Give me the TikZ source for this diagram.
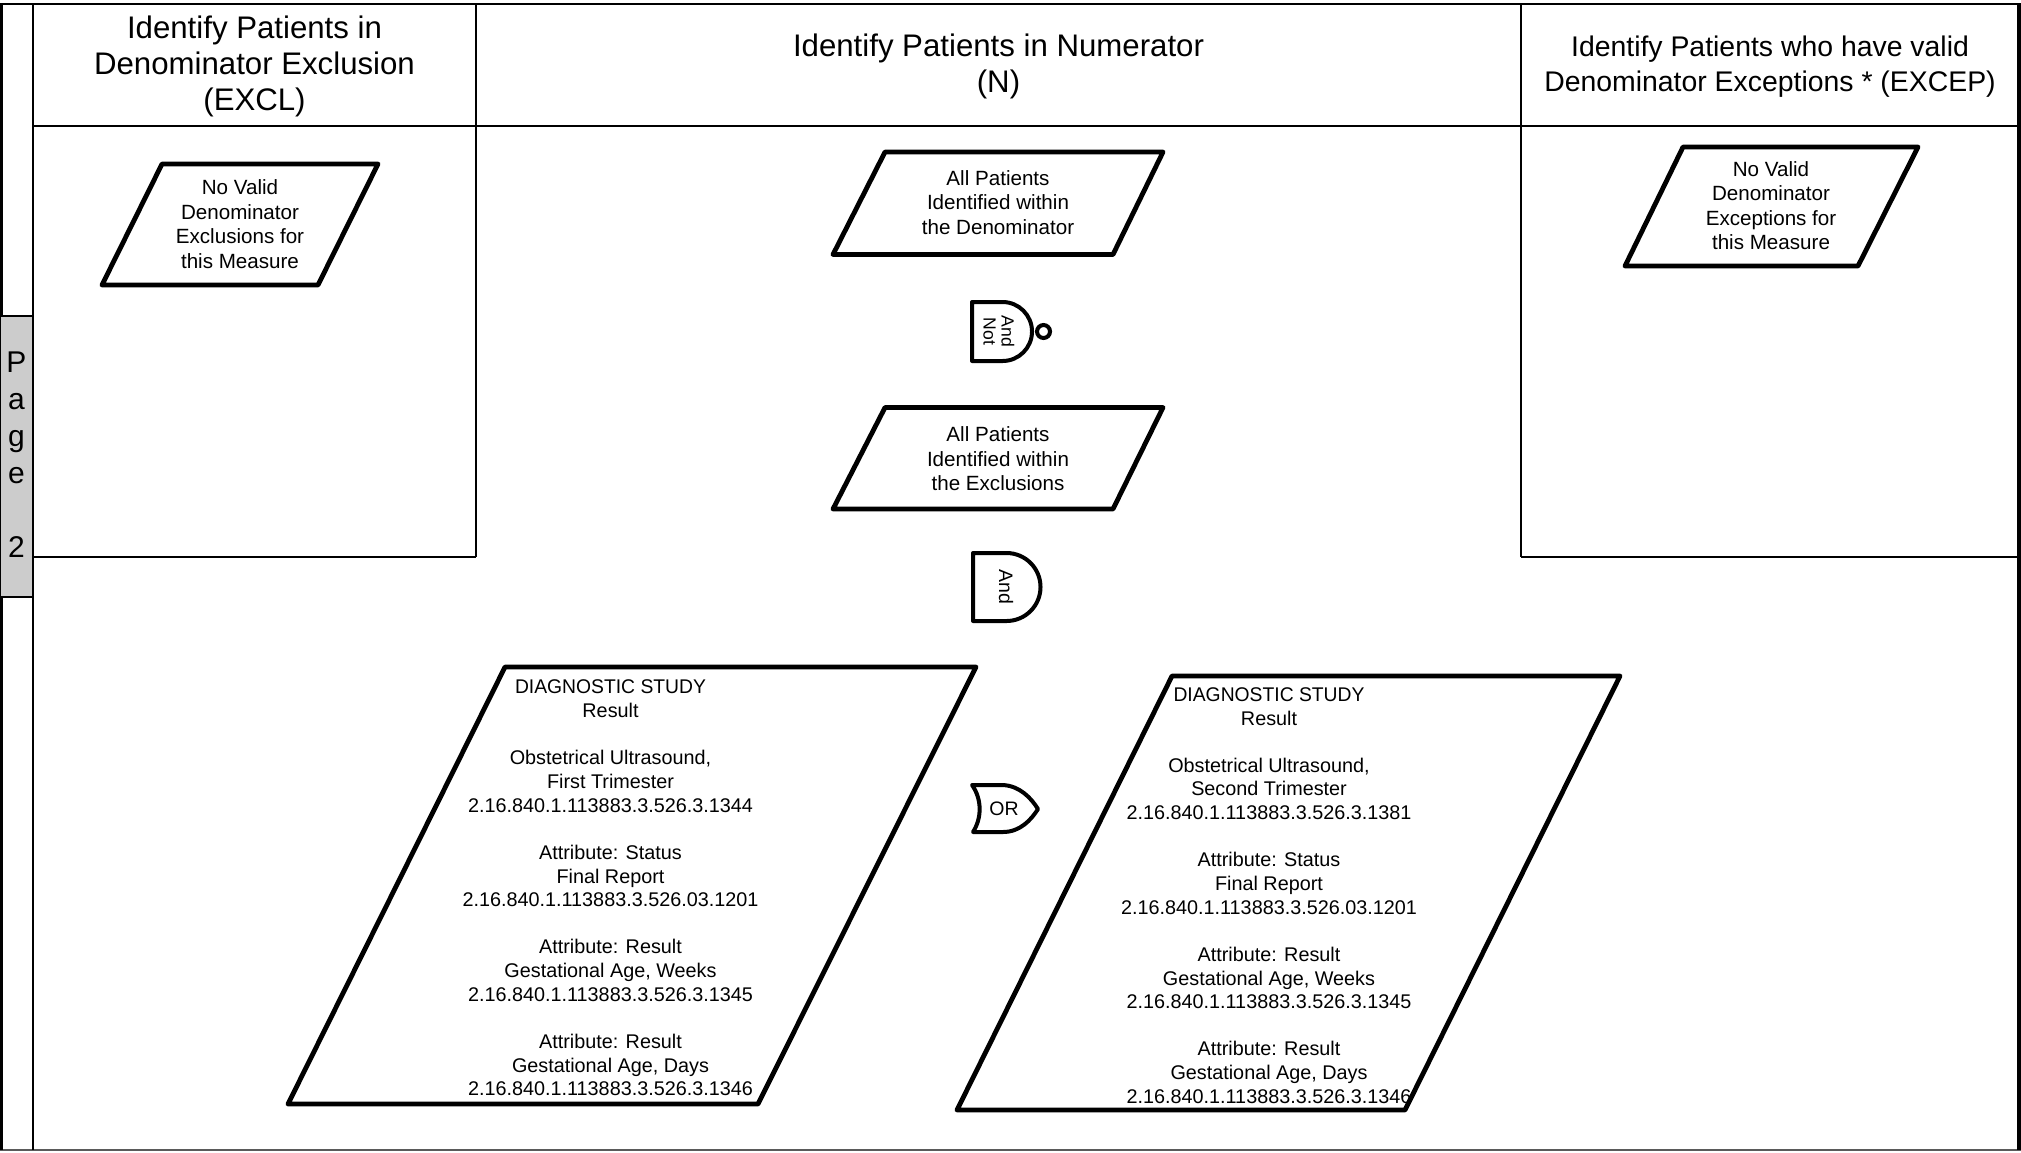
\documentclass[tikz,border=0pt]{standalone}
\usepackage{fontspec}
\setmainfont{Liberation Sans}
\definecolor{tabgray}{RGB}{204,204,204}
\definecolor{botgray}{RGB}{90,90,90}
\begin{document}
\begin{tikzpicture}[x=0.5pt,y=-0.5pt,
  frame/.style={line width=0.7pt},
  pgram/.style={line width=2.4pt, line join=round},
  gate/.style={line width=2pt, line join=round},
  hdr/.style={align=center, font=\fontsize{15.6}{18}\selectfont, inner sep=0pt},
  ptext/.style={align=center, font=\fontsize{10.3}{12.25}\selectfont, inner sep=0pt},
  btext/.style={align=center, font=\fontsize{9.9}{11.82}\selectfont, inner sep=0pt},
  gtext/.style={align=center, inner sep=0pt},
]
\useasboundingbox (0,0) rectangle (2021,1152);

% ---- frame and lanes ----
\draw[frame] (0,4) -- (2021,4);
\draw[frame, botgray, line width=0.9pt] (0,1150) -- (2021,1150);
\draw[line width=1.5pt] (1.5,4) -- (1.5,1150);
\draw[line width=2pt] (2019,4) -- (2019,1150);
\draw[frame] (33,4) -- (33,1150);
\draw[frame] (33,126) -- (2019,126);
\draw[frame] (476,4) -- (476,557);
\draw[frame] (1521,4) -- (1521,557);
\draw[frame] (33,557) -- (476,557);
\draw[frame] (1521,557) -- (2019,557);

% ---- page tab ----
\draw[frame, fill=tabgray] (0,316) rectangle (33,597);
\node[align=center, inner sep=0pt, font=\fontsize{15}{18.5}\selectfont] (pagetab) at (16.5,455) {P\\a\\g\\e\\[18.5pt]2};

% ---- headers ----
\node[hdr] (hdrexcl) at (254.5,66.5) {Identify Patients in\\Denominator Exclusion\\(EXCL)};
\node[hdr] (hdrnum) at (998.5,66.5) {Identify Patients in Numerator\\(N)};
\node[hdr, font=\fontsize{14.2}{17.5}\selectfont] (hdrexcep) at (1770,67) {Identify Patients who have valid\\Denominator Exceptions * (EXCEP)};

% ---- small parallelograms ----
\draw[pgram] (162,164) -- (378,164) -- (318,285) -- (102,285) -- cycle;
\node[ptext] (excltxt) at (240,224) {No Valid\\Denominator\\Exclusions for\\this Measure};

\draw[pgram] (1683,147) -- (1918,147) -- (1858,266) -- (1625,266) -- cycle;
\node[ptext] (exceptxt) at (1771,205.5) {No Valid\\Denominator\\Exceptions for\\this Measure};

\draw[pgram] (885,152) -- (1163,152) -- (1113,254.5) -- (833,254.5) -- cycle;
\node[ptext] (dentxt) at (998,202.5) {All Patients\\Identified within\\the Denominator};

\draw[pgram] (885,407.5) -- (1163,407.5) -- (1113,509) -- (833,509) -- cycle;
\node[ptext] (exctxt) at (998,459) {All Patients\\Identified within\\the Exclusions};

% ---- AND NOT gate ----
\draw[gate] (1002.5,302) -- (972,302) -- (972,361) -- (1002.5,361)
   arc[start angle=90, end angle=-90, radius=29.5];
\draw[line width=2pt] (1043.5,331.5) circle[radius=6.5];
\node[gtext, rotate=-90, font=\fontsize{8.8}{9}\selectfont] (andnot) at (999,331.5) {And\\Not};

% ---- AND gate ----
\draw[gate] (1006.5,553) -- (973,553) -- (973,621) -- (1006.5,621)
   arc[start angle=90, end angle=-90, radius=34];
\node[gtext, rotate=-90, font=\fontsize{9.75}{10}\selectfont] (andg) at (1006,587) {And};

% ---- OR gate ----
\draw[gate] (972,785) -- (1003,785) .. controls (1020,786) and (1031,798) .. (1038,809)
   .. controls (1031,820) and (1020,832) .. (1003,832) -- (973,832)
   .. controls (982,818) and (982,799) .. (972,785) -- cycle;
\node[gtext, font=\fontsize{9.75}{10}\selectfont] (org) at (1004,809) {OR};

% ---- big parallelograms ----
\draw[pgram] (505,667) -- (976,667) -- (758,1104) -- (288,1104) -- cycle;
\node[btext] (diag1) at (610.5,888) {\scalebox{0.975}[1]{DIAGNOSTIC STUDY}\\Result\\[11.82pt]Obstetrical Ultrasound,\\First Trimester\\2.16.840.1.113883.3.526.3.1344\\[11.82pt]Attribute: Status\\Final Report\\2.16.840.1.113883.3.526.03.1201\\[11.82pt]Attribute: Result\\Gestational Age, Weeks\\2.16.840.1.113883.3.526.3.1345\\[11.82pt]Attribute: Result\\Gestational Age, Days\\2.16.840.1.113883.3.526.3.1346};

\draw[pgram] (1172,676) -- (1620,676) -- (1405,1110) -- (957,1110) -- cycle;
\node[btext] (diag2) at (1269,895.5) {\scalebox{0.975}[1]{DIAGNOSTIC STUDY}\\Result\\[11.82pt]Obstetrical Ultrasound,\\Second Trimester\\2.16.840.1.113883.3.526.3.1381\\[11.82pt]Attribute: Status\\Final Report\\2.16.840.1.113883.3.526.03.1201\\[11.82pt]Attribute: Result\\Gestational Age, Weeks\\2.16.840.1.113883.3.526.3.1345\\[11.82pt]Attribute: Result\\Gestational Age, Days\\2.16.840.1.113883.3.526.3.1346};
\end{tikzpicture}
\end{document}
